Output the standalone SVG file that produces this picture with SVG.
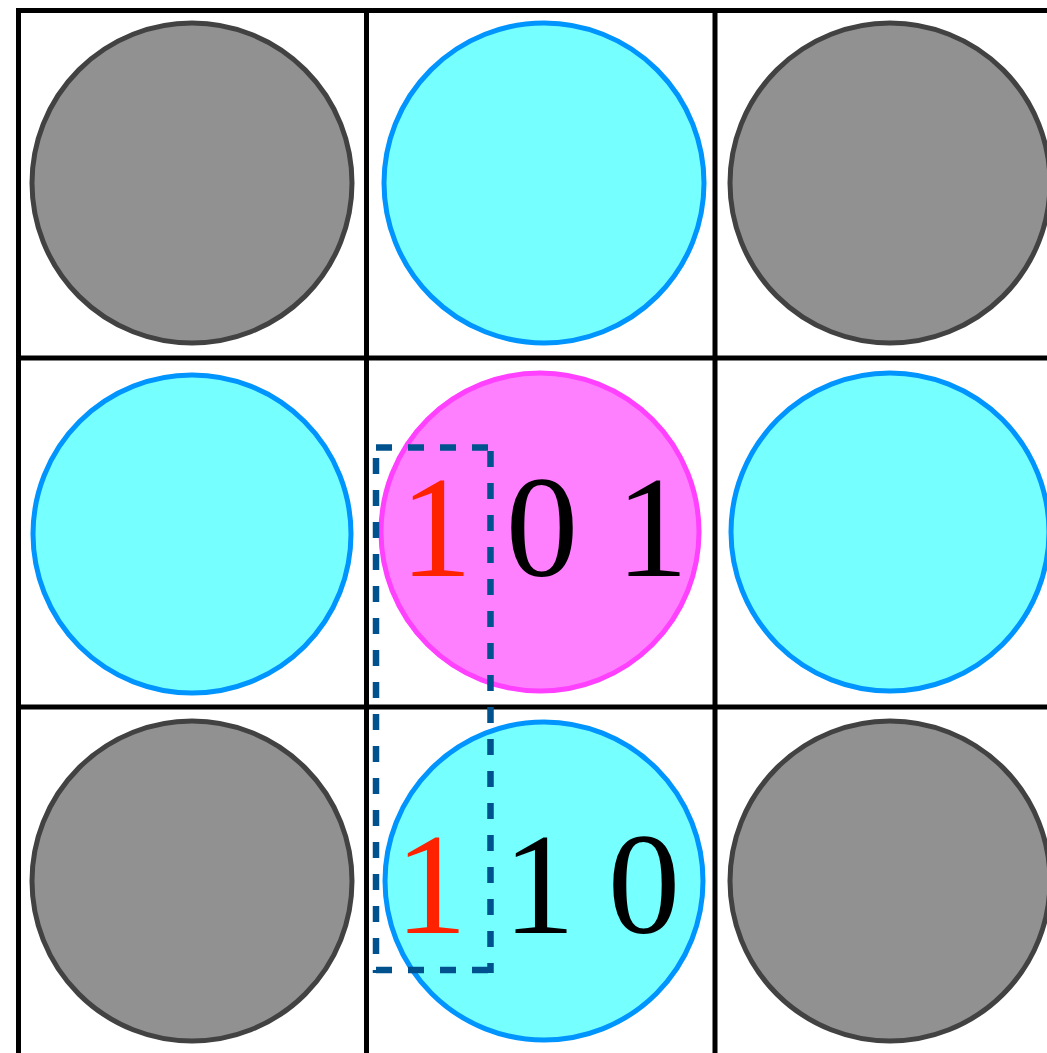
<svg xmlns="http://www.w3.org/2000/svg" width="1047" height="1053" viewBox="0 0 1047 1053">
<style>
.grid{stroke:#000;stroke-width:5;fill:none}
.gray{fill:#919191;stroke:#424242;stroke-width:5}
.cyan{fill:#75ffff;stroke:#0094ff;stroke-width:5}
.pink{fill:#ff80ff;stroke:#ff40ff;stroke-width:5}
.num{font-family:"Liberation Serif","Times New Roman",serif;font-size:145px;text-anchor:middle}
.red{fill:#ff2200}
.blk{fill:#000}
.sel{fill:none;stroke:#00528e;stroke-width:6.5;stroke-dasharray:16 16}
</style>
<rect width="1047" height="1053" fill="#fff"/>
<g id="grid">
<line class="grid" x1="18.5" y1="8" x2="18.5" y2="1060"/>
<line class="grid" x1="366.5" y1="8" x2="366.5" y2="1060"/>
<line class="grid" x1="715" y1="8" x2="715" y2="1060"/>
<line class="grid" x1="16" y1="10.5" x2="1060" y2="10.5"/>
<line class="grid" x1="16" y1="358" x2="1060" y2="358"/>
<line class="grid" x1="16" y1="707" x2="1060" y2="707"/>
</g>
<g id="c00"><circle class="gray" cx="192" cy="183" r="160"/></g>
<g id="c01"><circle class="cyan" cx="544" cy="183" r="160"/></g>
<g id="c02"><circle class="gray" cx="890" cy="183" r="160"/></g>
<g id="c10"><circle class="cyan" cx="192" cy="534" r="159"/></g>
<g id="c11"><circle class="pink" cx="540" cy="532" r="159"/>
<text class="num red" x="436" y="576">1</text>
<text class="num blk" x="542" y="576">0</text>
<text class="num blk" x="652" y="576">1</text>
</g>
<g id="c12"><circle class="cyan" cx="890" cy="532" r="159"/></g>
<g id="c20"><circle class="gray" cx="192" cy="881" r="160"/></g>
<g id="c21"><circle class="cyan" cx="544" cy="881" r="159"/>
<text class="num red" x="431" y="933">1</text>
<text class="num blk" x="539" y="933">1</text>
<text class="num blk" x="644" y="933">0</text>
</g>
<g id="c22"><circle class="gray" cx="890" cy="881" r="160"/></g>
<g id="selection">
<line class="sel" x1="376" y1="447.5" x2="494" y2="447.5"/>
<line class="sel" x1="490.5" y1="451" x2="490.5" y2="973"/>
<line class="sel" x1="376" y1="970" x2="494" y2="970"/>
<line class="sel" x1="376" y1="458" x2="376" y2="973"/>
</g>
</svg>
